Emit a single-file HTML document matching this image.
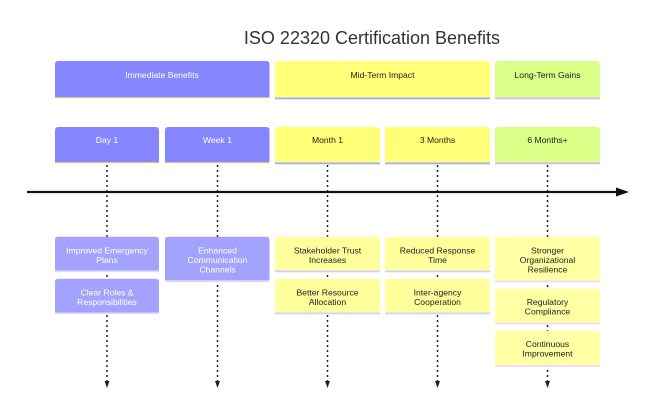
<!DOCTYPE html>
<html><head><meta charset="utf-8"><style>
html,body{margin:0;padding:0;background:#fff;}
svg{display:block;}
text{font-family:"Liberation Sans",Arial,sans-serif;}
.t{font-size:8.6px;text-anchor:middle;dominant-baseline:central;}
.w{fill:#ffffff;}
.k{fill:#222;}
</style></head><body>
<svg width="655" height="415" viewBox="0 0 655 415" xmlns="http://www.w3.org/2000/svg">
<rect width="655" height="415" fill="#fff"/>
<text x="372" y="44" font-size="18" text-anchor="middle" fill="#333">ISO 22320 Certification Benefits</text>

<!-- dashed lines -->
<g stroke="#222" stroke-width="1.5" stroke-dasharray="2 3" fill="none">
<line x1="107" y1="165" x2="107" y2="382"/>
<line x1="217.5" y1="165" x2="217.5" y2="382"/>
<line x1="327.5" y1="165" x2="327.5" y2="382"/>
<line x1="437.5" y1="165" x2="437.5" y2="382"/>
<line x1="547.5" y1="165" x2="547.5" y2="382"/>
</g>
<g fill="#222">
<polygon points="104.5,381 109.5,381 107,388"/>
<polygon points="215,381 220,381 217.5,388"/>
<polygon points="325,381 330,381 327.5,388"/>
<polygon points="435,381 440,381 437.5,388"/>
<polygon points="545,381 550,381 547.5,388"/>
</g>

<!-- timeline -->
<line x1="27" y1="192" x2="618" y2="192" stroke="#111" stroke-width="2.2"/>
<polygon points="616,187.5 629,192 616,196.5" fill="#111"/>

<!-- sections -->
<rect x="55" y="61" width="214.5" height="38" rx="3" fill="#8686ff"/>
<rect x="55" y="80" width="214.5" height="19" fill="#8686ff"/>
<rect x="55" y="97.5" width="214.5" height="1.8" fill="#ffffa8"/>
<text class="t w" x="162" y="75">Immediate Benefits</text>

<rect x="275" y="61" width="215" height="38" rx="3" fill="#ffff78"/>
<rect x="275" y="80" width="215" height="19" fill="#ffff78"/>
<rect x="275" y="97.5" width="215" height="1.8" fill="#a8a8ff"/>
<text class="t k" x="382.5" y="75">Mid-Term Impact</text>

<rect x="495" y="61" width="105" height="38" rx="3" fill="#d9ff86"/>
<rect x="495" y="80" width="105" height="19" fill="#d9ff86"/>
<rect x="495" y="97.5" width="105" height="1.8" fill="#d2b8ff"/>
<text class="t k" x="547.5" y="75">Long-Term Gains</text>

<!-- periods -->
<rect x="55" y="127" width="104" height="37" rx="3" fill="#8686ff"/>
<rect x="55" y="145" width="104" height="19" fill="#8686ff"/>
<rect x="55" y="162.5" width="104" height="1.8" fill="#ffffa8"/>
<text class="t w" x="107" y="140">Day 1</text>

<rect x="165" y="127" width="104.5" height="37" rx="3" fill="#8686ff"/>
<rect x="165" y="145" width="104.5" height="19" fill="#8686ff"/>
<rect x="165" y="162.5" width="104.5" height="1.8" fill="#ffffa8"/>
<text class="t w" x="217.5" y="140">Week 1</text>

<rect x="275" y="127" width="105" height="37" rx="3" fill="#ffff78"/>
<rect x="275" y="145" width="105" height="19" fill="#ffff78"/>
<rect x="275" y="162.5" width="105" height="1.8" fill="#a8a8ff"/>
<text class="t k" x="327.5" y="140">Month 1</text>

<rect x="385" y="127" width="105" height="37" rx="3" fill="#ffff78"/>
<rect x="385" y="145" width="105" height="19" fill="#ffff78"/>
<rect x="385" y="162.5" width="105" height="1.8" fill="#a8a8ff"/>
<text class="t k" x="437.5" y="140">3 Months</text>

<rect x="495" y="127" width="105" height="37" rx="3" fill="#d9ff86"/>
<rect x="495" y="145" width="105" height="19" fill="#d9ff86"/>
<rect x="495" y="162.5" width="105" height="1.8" fill="#d2b8ff"/>
<text class="t k" x="547.5" y="140">6 Months+</text>

<!-- events col1 -->
<rect x="55" y="236.7" width="104" height="35.3" rx="3" fill="#a3a3ff"/>
<rect x="55" y="255" width="104" height="17" fill="#a3a3ff"/>
<rect x="55" y="270.5" width="104" height="1.6" fill="#dcdcff"/>
<text class="t w" x="107" y="250.7">Improved Emergency</text>
<text class="t w" x="107" y="260.2">Plans</text>

<rect x="55" y="278.7" width="104" height="35.3" rx="3" fill="#a3a3ff"/>
<rect x="55" y="297" width="104" height="17" fill="#a3a3ff"/>
<rect x="55" y="312.5" width="104" height="1.6" fill="#dcdcff"/>
<text class="t w" x="107" y="292.7">Clear Roles &amp;</text>
<text class="t w" x="107" y="302.2">Responsibilities</text>

<!-- col2 -->
<rect x="165" y="236.7" width="104.5" height="45" rx="3" fill="#a3a3ff"/>
<rect x="165" y="260" width="104.5" height="21.7" fill="#a3a3ff"/>
<rect x="165" y="280.2" width="104.5" height="1.6" fill="#dcdcff"/>
<text class="t w" x="217.5" y="250.7">Enhanced</text>
<text class="t w" x="217.5" y="260.2">Communication</text>
<text class="t w" x="217.5" y="269.7">Channels</text>

<!-- col3 -->
<rect x="275" y="236.7" width="105" height="35.3" rx="3" fill="#ffff9c"/>
<rect x="275" y="255" width="105" height="17" fill="#ffff9c"/>
<rect x="275" y="270.5" width="105" height="1.8" fill="#d0d0ff"/>
<text class="t k" x="327.5" y="250.7">Stakeholder Trust</text>
<text class="t k" x="327.5" y="260.2">Increases</text>

<rect x="275" y="278.7" width="105" height="35.3" rx="3" fill="#ffff9c"/>
<rect x="275" y="297" width="105" height="17" fill="#ffff9c"/>
<rect x="275" y="312.5" width="105" height="1.8" fill="#d0d0ff"/>
<text class="t k" x="327.5" y="292.7">Better Resource</text>
<text class="t k" x="327.5" y="302.2">Allocation</text>

<!-- col4 -->
<rect x="385" y="236.7" width="105" height="35.3" rx="3" fill="#ffff9c"/>
<rect x="385" y="255" width="105" height="17" fill="#ffff9c"/>
<rect x="385" y="270.5" width="105" height="1.8" fill="#d0d0ff"/>
<text class="t k" x="437.5" y="250.7">Reduced Response</text>
<text class="t k" x="437.5" y="260.2">Time</text>

<rect x="385" y="278.7" width="105" height="35.3" rx="3" fill="#ffff9c"/>
<rect x="385" y="297" width="105" height="17" fill="#ffff9c"/>
<rect x="385" y="312.5" width="105" height="1.8" fill="#d0d0ff"/>
<text class="t k" x="437.5" y="292.7">Inter-agency</text>
<text class="t k" x="437.5" y="302.2">Cooperation</text>

<!-- col5 -->
<rect x="495" y="236.7" width="105" height="45.3" rx="3" fill="#ffffa3"/>
<rect x="495" y="260" width="105" height="22" fill="#ffffa3"/>
<rect x="495" y="280.5" width="105" height="1.8" fill="#f6d6ff"/>
<text class="t k" x="547.5" y="250.7">Stronger</text>
<text class="t k" x="547.5" y="260.2">Organizational</text>
<text class="t k" x="547.5" y="269.7">Resilience</text>

<rect x="495" y="288.7" width="105" height="35.6" rx="3" fill="#ffffa3"/>
<rect x="495" y="307" width="105" height="17.3" fill="#ffffa3"/>
<rect x="495" y="322.7" width="105" height="1.8" fill="#f6d6ff"/>
<text class="t k" x="547.5" y="302">Regulatory</text>
<text class="t k" x="547.5" y="311.6">Compliance</text>

<rect x="495" y="330.7" width="105" height="36" rx="3" fill="#ffffa3"/>
<rect x="495" y="349" width="105" height="17.7" fill="#ffffa3"/>
<rect x="495" y="365" width="105" height="1.8" fill="#f6d6ff"/>
<text class="t k" x="547.5" y="344">Continuous</text>
<text class="t k" x="547.5" y="353.7">Improvement</text>
</svg>
</body></html>
